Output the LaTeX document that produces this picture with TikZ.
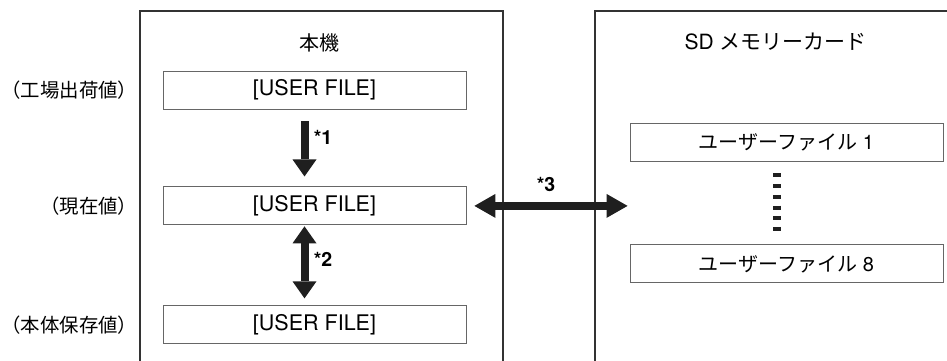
\documentclass[tikz,border=0pt]{standalone}
\usepackage{fontspec}
\setmainfont{TeX Gyre Heros}
\newfontfamily\jpfont{Noto Sans CJK JP}
\usepackage{tikz}
\usetikzlibrary{arrows.meta,positioning,calc}

\begin{document}
\begin{tikzpicture}[x=1pt,y=-1pt,
 frame/.style={draw=black!80,line width=1.4pt},
 box/.style={draw=black!60,line width=0.9pt,minimum width=303pt,minimum height=38pt,inner sep=0pt,font=\fontsize{21.5}{25}\selectfont},
 sdbox/.style={box,minimum width=313pt,font=\fontsize{20}{24}\selectfont},
 title/.style={inner sep=0pt,font=\fontsize{20}{24}\selectfont\jpfont},
 side/.style={inner sep=0pt,font=\fontsize{19.4}{24}\selectfont\jpfont},
 note/.style={inner sep=0pt,font=\fontsize{19.5}{22}\selectfont\bfseries},
 varrow/.style={line width=8pt,draw=black!88,-{Triangle[length=17pt,width=24pt,line width=0pt]}},
 harrow/.style={line width=8pt,draw=black!88,{Triangle[length=21pt,width=24pt,line width=0pt]}-{Triangle[length=21pt,width=24pt,line width=0pt]}},
 dots/.style={line width=8pt,draw=black!88,dash pattern=on 4pt off 6.7pt}]
\useasboundingbox (0,0) rectangle (947,360);
% frames
\draw[frame] (140,361) |- (503,11) -- (503,361);
\draw[frame] (595,361) |- (948,11);
\node[title] (cam) at (319.5,42.5) {本機};
\node[title] (card) at (775.5,42) {\fontsize{21}{24}\selectfont\rmfamily SD {\jpfont メモリーカード}};
% camera side
\node[box] (u1) at (314.5,90) {[USER FILE]};
\node[box,below=77pt of u1] (u2) {[USER FILE]};
\node[box,below=80pt of u2] (u3) {[USER FILE]};
\node[side,left=25pt of u1] (l1) {（工場出荷値）};
\node[side,left=25pt of u2] (l2) {（現在値）};
\node[side,left=25pt of u3] (l3) {（本体保存値）};
% card side
\node[sdbox] (s1) at (786.5,142) {{\jpfont ユーザーファイル} 1};
\node[sdbox,below=83pt of s1] (s8) {{\jpfont ユーザーファイル} 8};
\draw[dots,shorten <=12pt,shorten >=13.5pt] ([xshift=-9.5pt]s1.south) -- ([xshift=-9.5pt]s8.north);
% arrows
\draw[varrow,shorten <=12pt,shorten >=10pt] ([xshift=-10pt]u1.south) -- ([xshift=-10pt]u2.north);
\draw[varrow,{Triangle[length=17pt,width=24pt,line width=0pt]}-{Triangle[length=17pt,width=24pt,line width=0pt]},shorten <=1pt,shorten >=7pt] ([xshift=-10pt]u2.south) -- ([xshift=-10pt]u3.north);
\draw[harrow,shorten <=8pt,shorten >=2pt] (u2.east) -- (u2.east -| s1.west);
\node[note] (n1) at (323,137) {*1};
\node[note] (n2) at (323,259) {*2};
\node[note] (n3) at (546,184) {*3};
\end{tikzpicture}
\end{document}
